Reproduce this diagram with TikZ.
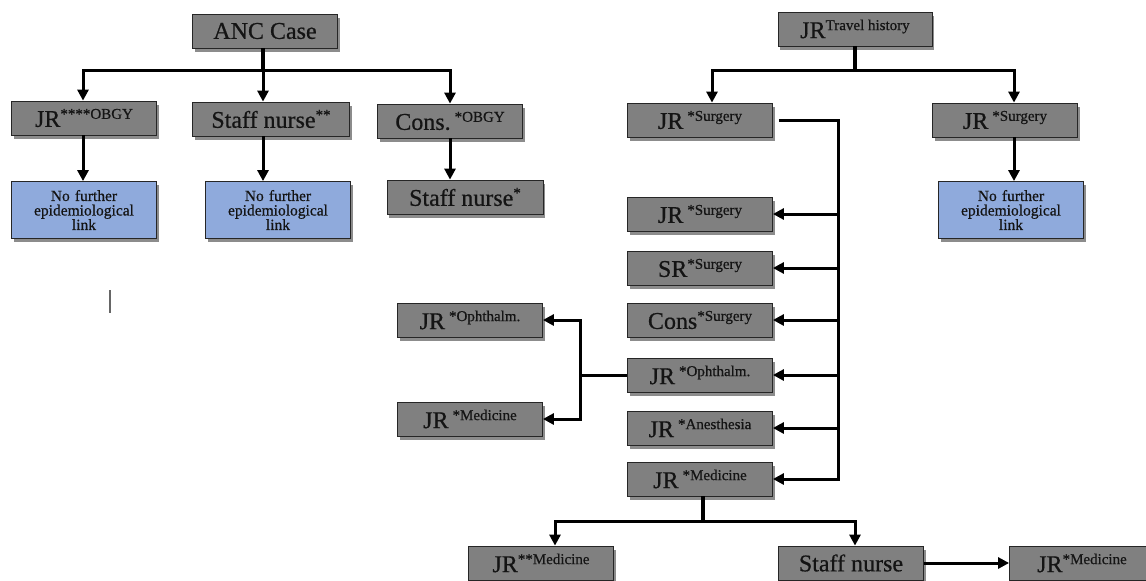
\documentclass[tikz,border=0pt]{standalone}
\usepackage{fontspec}
\setmainfont{Liberation Serif}[FakeBold=0.6]
\usetikzlibrary{arrows.meta,shadows,calc}
\definecolor{boxgray}{RGB}{128,128,128}
\definecolor{boxblue}{RGB}{143,170,220}
\definecolor{txt}{RGB}{20,20,20}
\newcommand\spx[1]{\raisebox{8pt}{\fontsize{15}{15}\selectfont #1}}
\begin{document}
\begin{tikzpicture}[x=1pt,y=-1pt,
  gbox/.style={draw=black!85, line width=0.8pt, fill=boxgray, minimum width=145pt, minimum height=34pt,
     inner sep=1pt, text=txt, font=\fontsize{24}{24}\selectfont,
     drop shadow={shadow xshift=2pt, shadow yshift=-3.5pt, opacity=0.45, fill=black}},
  bbox/.style={draw=black!85, line width=0.8pt, fill=boxblue, minimum width=145pt, minimum height=57pt,
     text width=143pt, align=center, inner sep=1pt, text=txt, font=\fontsize{15.5}{14.5}\selectfont,
     drop shadow={shadow xshift=2pt, shadow yshift=-3.5pt, opacity=0.45, fill=black}},
  ln/.style={line width=3.2pt, black},
  arr/.style={line width=3pt, black, -{Triangle[length=11pt,width=11pt]}}]
\useasboundingbox (0,0) rectangle (1146,581);

% left tree
\node[gbox, minimum width=145pt] (anc) at (265,31) {ANC Case};
\node[gbox] (jr4) at (84,118) {JR\spx{****OBGY}};
\node[gbox, minimum width=157pt] (sn2) at (271,119) {Staff nurse\spx{**}};
\node[gbox] (cons) at (450,121) {Cons.\,\spx{*OBGY}};
\node[bbox] (nf1) at (84,210) {No further\\epidemiological\\link};
\node[bbox] (nf2) at (278,210) {No further\\epidemiological\\link};
\node[gbox, minimum width=156pt] (sn1) at (465,197) {Staff nurse\spx{*}};

\coordinate (lbar) at (263,70);
\draw[ln] ([xshift=-2pt]anc.south) -- (lbar);
\draw[arr] (lbar) -| ([xshift=-1pt]jr4.north);
\draw[arr] (lbar) -| (cons.north);
\draw[arr] (lbar) -- (lbar |- sn2.north);
\draw[arr] ([xshift=-1pt]jr4.south) -- ([xshift=-1pt]jr4.south |- nf1.north);
\draw[arr] ([xshift=-8pt]sn2.south) -- ([xshift=-8pt]sn2.south |- nf2.north);
\draw[arr] (cons.south) -- (cons.south |- sn1.north);

% stray mark
\draw[gray!80!black, line width=1.6pt] (110,290) -- (110,313);

% right tree
\node[gbox, minimum width=154pt] (trv) at (855,29) {JR\spx{Travel history}};
\node[gbox] (jrsA) at (700,120) {JR\,\spx{*Surgery}};
\node[gbox] (jrsB) at (1005,120) {JR\,\spx{*Surgery}};
\node[bbox] (nf3) at (1011,210) {No further\\epidemiological\\link};

\coordinate (rbar) at (855,70);
\draw[ln] (trv.south) -- (rbar);
\draw[arr] (rbar) -| ([xshift=12pt]jrsA.north);
\draw[arr] (rbar) -| ([xshift=9pt]jrsB.north);
\draw[arr] ([xshift=9pt]jrsB.south) -- ([xshift=9pt]jrsB.south |- nf3.north);

\node[gbox] (jrs2) at (700,214) {JR\,\spx{*Surgery}};
\node[gbox] (srs) at (700,268) {SR\spx{*Surgery}};
\node[gbox] (cns) at (700,320) {Cons\spx{*Surgery}};
\node[gbox] (oph) at (700,375) {JR\,\spx{*Ophthalm.}};
\node[gbox] (ane) at (700,428) {JR\,\spx{*Anesthesia}};
\node[gbox] (med) at (700,479) {JR\,\spx{*Medicine}};

\coordinate (tk) at (838,479);
\draw[arr] ([xshift=6pt]jrsA.east) -| (tk) -- (med.east);
\foreach \n in {jrs2,srs,cns,oph,ane}
  \draw[arr] (\n.east -| tk) -- (\n.east);

\node[gbox] (ophL) at (470,320) {JR\,\spx{*Ophthalm.}};
\node[gbox] (medL) at (470,419) {JR\,\spx{*Medicine}};
\coordinate (br) at (580,375);
\draw[arr] (oph.west) -- (br) |- (ophL.east);
\draw[arr] (br) |- (medL.east);

% bottom
\node[gbox] (jmm) at (541,563) {JR\spx{**Medicine}};
\node[gbox] (snb) at (851,563) {Staff nurse};
\node[gbox] (jmr) at (1082,563) {JR\spx{*Medicine}};
\coordinate (bbar) at (703,521);
\draw[ln] ([xshift=3pt]med.south) -- (bbar);
\draw[arr] (bbar) -| ([xshift=14pt]jmm.north);
\draw[arr] (bbar) -| ([xshift=4pt]snb.north);
\draw[arr] (snb.east) -- (jmr.west);
\end{tikzpicture}
\end{document}
